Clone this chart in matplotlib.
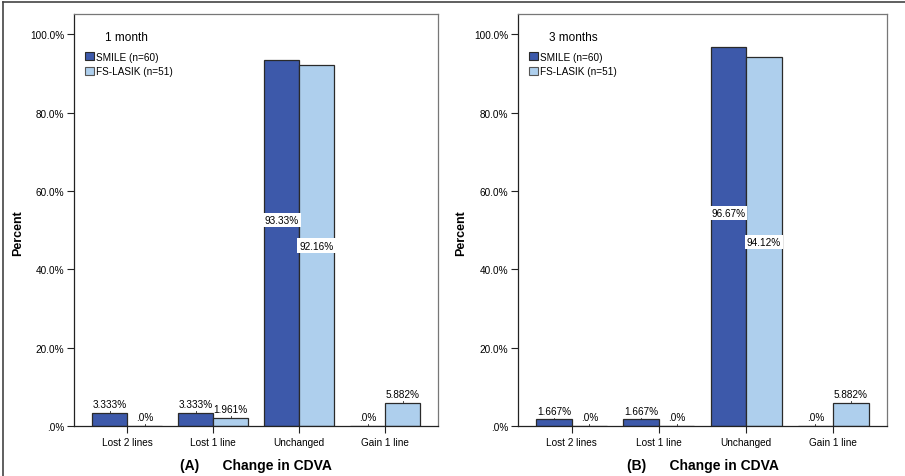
import matplotlib
matplotlib.use("Agg")
import matplotlib.pyplot as plt
from matplotlib.lines import Line2D
from matplotlib.patches import Patch
import numpy as np

plt.rcParams['font.family'] = ['Liberation Sans', 'DejaVu Sans']

categories = ["Lost 2 lines", "Lost 1 line", "Unchanged", "Gain 1 line"]
series_names = ["SMILE (n=60)", "FS-LASIK (n=51)"]

smile_1m = [3.333, 3.333, 93.33, 0.0]
lasik_1m = [0.0, 1.961, 92.16, 5.882]
smile_3m = [1.667, 1.667, 96.67, 0.0]
lasik_3m = [0.0, 0.0, 94.12, 5.882]

panel_titles = ["1 month", "3 months"]
panel_tags = ["(A)", "(B)"]
yticks = [0, 20, 40, 60, 80, 100]
ytick_labels = [".0%", "20.0%", "40.0%", "60.0%", "80.0%", "100.0%"]

c_smile = "#3d59aa"
c_lasik = "#aecfed"
edge = "#2a2a2a"

fig = plt.figure(figsize=(9.05, 4.77), dpi=100)
fig.patch.set_facecolor("white")

# outer frame (top and left)
fig.add_artist(Line2D([0.003, 0.003], [0, 0.994], transform=fig.transFigure, color="#444444", lw=1.2))
fig.add_artist(Line2D([0.003, 1.0], [0.994, 0.994], transform=fig.transFigure, color="#444444", lw=1.2))

panels = [
    ((0.0818, 0.1048, 0.4022, 0.8638), smile_1m, lasik_1m),
    ((0.5724, 0.1048, 0.4076, 0.8638), smile_3m, lasik_3m),
]

def fmt(v):
    if v == 0:
        return ".0%"
    if v >= 10:
        return f"{v:.2f}%"
    return f"{v:.3f}%"

w = 0.407
for i, (rect, s, l) in enumerate(panels):
    ax = fig.add_axes(rect)
    x = np.arange(len(categories))
    for vals, off, col in ((s, -w / 2, c_smile), (l, w / 2, c_lasik)):
        ax.bar(x + off, vals, width=w, color=col, edgecolor=edge, linewidth=0.9, zorder=2)
        for xi, v in zip(x + off, vals):
            if v > 50:
                yy = v / 2 + (6 if off < 0 else 0)
                ax.text(xi, yy, fmt(v), ha="center", va="center", fontsize=7.2,
                        bbox=dict(facecolor="white", edgecolor="none", pad=1.5), zorder=4)
            else:
                ax.plot([xi, xi], [v, v + 0.5], color=edge, lw=0.6, zorder=3)
                ax.text(xi, v + 1.0, fmt(v), ha="center", va="bottom", fontsize=7.2, zorder=4)
    ax.set_xlim(-0.616, 3.616)
    ax.set_ylim(0, 105.2)
    ax.set_xticks(x)
    ax.set_xticklabels(categories, fontsize=7.2)
    ax.set_yticks(yticks)
    ax.set_yticklabels(ytick_labels, fontsize=7.2)
    ax.tick_params(axis="both", direction="out", length=5, width=0.8, color="#222222", pad=2)
    ax.tick_params(axis="x", pad=3)
    for sp in ax.spines.values():
        sp.set_color("#777777")
        sp.set_linewidth(0.9)
    ax.spines["left"].set_color("#222222")
    ax.spines["bottom"].set_color("#222222")
    ax.set_ylabel("Percent", fontsize=9, fontweight="bold")
    ax.yaxis.set_label_coords(-0.138, 0.47)
    ax.set_xlabel(f"{panel_tags[i]}      Change in CDVA", fontsize=10, fontweight="bold", labelpad=8)
    handles = [Patch(facecolor=c_smile, edgecolor=edge, linewidth=0.8),
               Patch(facecolor=c_lasik, edgecolor="#555555", linewidth=0.8)]
    leg = ax.legend(handles, series_names, title=panel_titles[i], loc="upper left",
                    bbox_to_anchor=(0.01, 0.975), frameon=False, fontsize=7.2,
                    title_fontsize=8.5, handlelength=0.9, handleheight=0.9,
                    handletextpad=0.2, labelspacing=0.45, borderaxespad=0.3)
    leg._legend_box.align = "left"
    leg._legend_box.sep = 6
    leg.get_title().set_position((20, 0))

fig.savefig("out.png", dpi=100, facecolor="white")
